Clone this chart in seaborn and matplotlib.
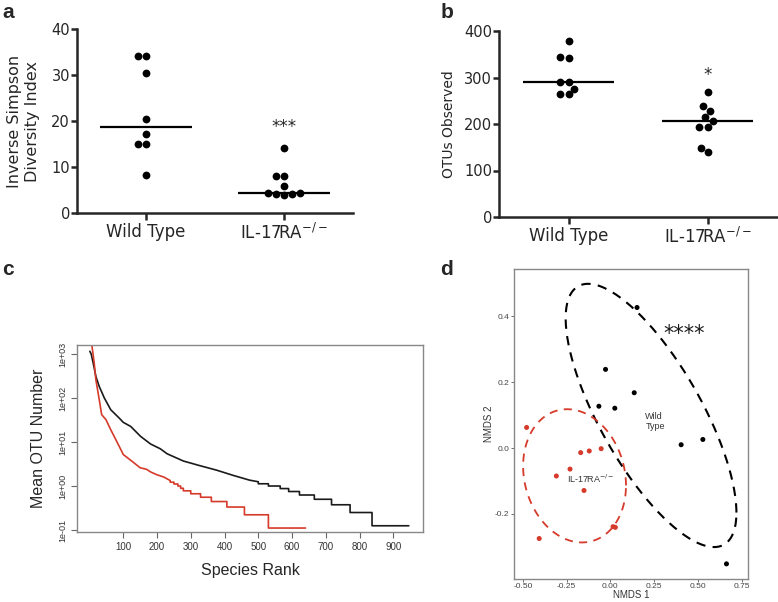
import numpy as np
import pandas as pd
import matplotlib
matplotlib.use("Agg")
import matplotlib.pyplot as plt
import seaborn as sns

# ---------------- data ----------------
groups = ["Wild Type", "IL-17RA"]
group_labels = ["Wild Type", r"IL-17RA$^{\mathregular{-/-}}$"]

simpson_wt = [34.2, 34.2, 30.5, 20.4, 17.2, 15.0, 15.0, 8.3]
simpson_ko = [14.1, 8.1, 8.1, 5.9, 4.4, 4.1, 3.9, 4.1, 4.3]

otus_wt = [378, 345, 342, 291, 291, 276, 264, 264]
otus_ko = [269, 238, 228, 214, 207, 194, 194, 148, 139]

# rank-abundance curves (rank, mean OTU number) knots
wt_rank = [1, 5, 11, 19, 29, 44, 63, 88, 100, 122, 151, 181, 210, 230, 278, 327,
           376, 425, 474, 500, 500, 530, 530, 565, 565, 590, 590, 622, 622, 666,
           666, 717, 717, 772, 772, 837, 837, 946]
wt_mean = [1150, 1000, 620, 307, 182, 100, 54, 35, 28, 22.6, 13.5, 9.0, 7.0, 5.4,
           3.7, 2.9, 2.3, 1.75, 1.36, 1.25, 1.125, 1.125, 1.0, 1.0, 0.875, 0.875,
           0.75, 0.75, 0.625, 0.625, 0.5, 0.5, 0.375, 0.375, 0.25, 0.25, 0.125, 0.125]
ko_rank = [1, 7, 14, 19, 29, 36, 49, 63, 78, 93, 100, 129, 150, 169, 181, 200,
           220, 239, 239, 250, 250, 262, 262, 270, 270, 278, 278, 300, 300, 329,
           329, 361, 361, 407, 407, 459, 459, 530, 530, 640]
ko_mean = [3000, 1600, 620, 257, 91, 42, 32, 19, 11.3, 6.7, 5.2, 3.5, 2.6, 2.4,
           2.09, 1.8, 1.6, 1.333, 1.222, 1.222, 1.111, 1.111, 1.0, 1.0, 0.889,
           0.889, 0.778, 0.778, 0.667, 0.667, 0.556, 0.556, 0.444, 0.444, 0.333,
           0.333, 0.222, 0.222, 0.111, 0.111]

# NMDS ordination
nmds1_wt = [0.152, -0.028, 0.136, -0.066, 0.025, 0.404, 0.528, 0.663]
nmds2_wt = [0.427, 0.239, 0.168, 0.127, 0.121, 0.010, 0.026, -0.352]
nmds1_ko = [-0.479, -0.170, -0.121, -0.053, -0.231, -0.309, -0.151, 0.015, 0.028, -0.407]
nmds2_ko = [0.0625, -0.014, -0.009, -0.002, -0.064, -0.085, -0.129, -0.239, -0.241, -0.275]

# ellipse centre and shape matrices
wt_ell_center = [0.232, 0.099]
wt_ell_shape = [[0.238, -0.144], [-0.144, 0.160]]
ko_ell_center = [-0.205, -0.0845]
ko_ell_shape = [[0.0864, -0.0086], [-0.0086, 0.0410]]

RED = "#d63a2a"

# ---------------- figure ----------------
sns.set_theme(style="ticks")
plt.rcParams["font.family"] = ["DejaVu Sans"]
plt.rcParams["mathtext.fontset"] = "dejavusans"

W, H = 778, 602
fig = plt.figure(figsize=(W / 100, H / 100), dpi=100)


def box(x0, y0, x1, y1):
    return [x0 / W, 1 - y1 / H, (x1 - x0) / W, (y1 - y0) / H]


def dot_panel(ax, wt, ko, ylim, yticks, ylabel, star, star_y, ylab_size, ylab_pad):
    df = pd.DataFrame({"group": [groups[0]] * len(wt) + [groups[1]] * len(ko),
                       "value": list(wt) + list(ko)})
    sns.boxplot(data=df, x="group", y="value", order=groups, ax=ax,
                showbox=False, showcaps=False, showfliers=False,
                whiskerprops={"visible": False},
                medianprops={"color": "black", "linewidth": 1.6}, width=0.66)
    sns.swarmplot(data=df, x="group", y="value", order=groups, ax=ax,
                  color="black", size=5.6)
    ax.set_xlim(-0.5, 1.5)
    ax.set_ylim(*ylim)
    ax.set_yticks(yticks)
    ax.set_xticks([0, 1])
    ax.set_xticklabels(group_labels, fontsize=12)
    ax.set_xlabel("")
    ax.set_ylabel(ylabel, fontsize=ylab_size, linespacing=1.3, labelpad=ylab_pad)
    for s in ["top", "right"]:
        ax.spines[s].set_visible(False)
    for s in ["left", "bottom"]:
        ax.spines[s].set_linewidth(1.8)
    ax.tick_params(axis="y", width=1.8, length=4, labelsize=10.5, pad=1)
    ax.tick_params(axis="x", width=1.8, length=5, pad=2)
    ax.text(1, star_y, star, ha="center", va="center", fontsize=12)


# panel a
axa = fig.add_axes(box(77, 29, 353, 213))
dot_panel(axa, simpson_wt, simpson_ko, (0, 40), [0, 10, 20, 30, 40],
          "Inverse Simpson\nDiversity Index", "***", 18.6, 11.5, 8)

# panel b
axb = fig.add_axes(box(499, 31, 777, 217))
dot_panel(axb, otus_wt, otus_ko, (0, 400), [0, 100, 200, 300, 400],
          "OTUs Observed", "*", 305, 10, 6)

# panel c
axc = fig.add_axes(box(77, 345, 423, 532))
dfc = pd.DataFrame({"rank": wt_rank + ko_rank, "mean": wt_mean + ko_mean,
                    "group": ["wt"] * len(wt_rank) + ["ko"] * len(ko_rank)})
sns.lineplot(data=dfc, x="rank", y="mean", hue="group",
             palette={"wt": "#1a1a1a", "ko": RED}, sort=False, estimator=None,
             legend=False, linewidth=1.2, ax=axc)
axc.set_yscale("log")
axc.set_ylim(0.0902, 1600)
axc.set_xlim(-37, 988)
axc.set_yticks([0.1, 1, 10, 100, 1000])
axc.set_yticks([], minor=True)
axc.set_yticklabels(["1e-01", "1e+00", "1e+01", "1e+02", "1e+03"],
                    rotation=90, va="center", family="Liberation Sans", fontsize=6.5)
axc.set_xticks([100, 200, 300, 400, 500, 600, 700, 800, 900])
axc.set_xticklabels([str(v) for v in [100, 200, 300, 400, 500, 600, 700, 800, 900]],
                    family="Liberation Sans", fontsize=7)
axc.tick_params(axis="both", length=4, width=0.8, color="#666666",
                labelcolor="#333333", pad=3)
for s in axc.spines.values():
    s.set_color("#888888")
    s.set_linewidth(1.0)
axc.set_xlabel("Species Rank", fontsize=11.5, family="Liberation Sans", labelpad=8)
axc.set_ylabel("Mean OTU Number", fontsize=11.5, family="Liberation Sans", labelpad=9)

# panel d
axd = fig.add_axes(box(514, 269, 748, 579))
dfd = pd.DataFrame({"nmds1": nmds1_wt + nmds1_ko, "nmds2": nmds2_wt + nmds2_ko,
                    "group": ["wt"] * len(nmds1_wt) + ["ko"] * len(nmds1_ko)})
sns.scatterplot(data=dfd, x="nmds1", y="nmds2", hue="group",
                palette={"wt": "black", "ko": RED}, s=13, edgecolor="none",
                legend=False, ax=axd)
t = np.linspace(0, 2 * np.pi, 300)
circ = np.vstack([np.cos(t), np.sin(t)])
for c, m, col, lw in [(wt_ell_center, wt_ell_shape, "black", 1.5),
                      (ko_ell_center, ko_ell_shape, RED, 1.3)]:
    L = np.linalg.cholesky(np.array(m))
    pts = np.array(c)[:, None] + L @ circ
    axd.plot(pts[0], pts[1], color=col, lw=lw, ls=(0, (4.5, 3.5)))
axd.set_xlim(-0.551, 0.786)
axd.set_ylim(-0.398, 0.544)
axd.set_xticks([-0.5, -0.25, 0, 0.25, 0.5, 0.75])
axd.set_xticklabels(["-0.50", "-0.25", "0.00", "0.25", "0.50", "0.75"],
                    family="Liberation Sans")
axd.set_yticks([-0.2, 0.0, 0.2, 0.4])
axd.set_yticklabels(["-0.2", "0.0", "0.2", "0.4"], family="Liberation Sans")
axd.tick_params(axis="both", labelsize=6, length=2, width=0.6, color="#555555",
                labelcolor="#444444", pad=1.2)
for s in axd.spines.values():
    s.set_color("#888888")
    s.set_linewidth(1.0)
axd.set_xlabel("NMDS 1", fontsize=7, family="Liberation Sans", color="#333333")
axd.xaxis.set_label_coords(0.5, -11.5 / 310)
axd.set_ylabel("NMDS 2", fontsize=7, family="Liberation Sans", color="#333333", labelpad=1)
axd.text(0.2, 0.08, "Wild\nType", fontsize=6.5, family="Liberation Sans",
         va="center", ha="left", color="#333333", linespacing=1.1)
axd.text(-0.246, -0.094, r"IL-17RA$^{-/-}$", fontsize=6.5, family="Liberation Sans",
         va="center", ha="left", color="#333333")
axd.text(0.419, 0.345, "****", fontsize=15, ha="center", va="center", color="#1a1a1a")

# panel letters
for lx, ly, lt in [(8, 13, "a"), (447, 12, "b"), (8, 270, "c"), (447, 270, "d")]:
    fig.text(lx / W, 1 - ly / H, lt, fontsize=15, fontweight="bold",
             family="Liberation Sans", ha="center", va="center")

fig.savefig("out.png", dpi=100)
